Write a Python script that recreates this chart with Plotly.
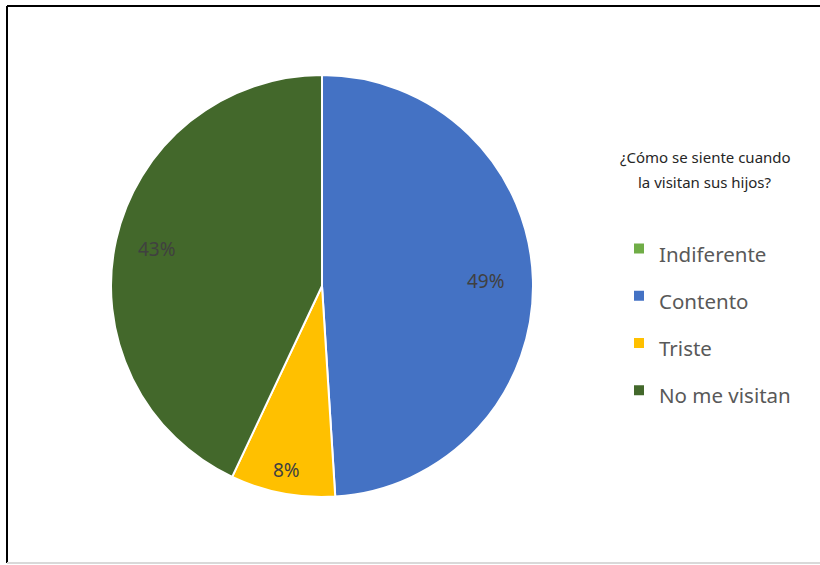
import math
import plotly.graph_objects as go

categories = ["Indiferente", "Contento", "Triste", "No me visitan"]
values = [0, 49, 8, 43]
colors = ["#70AD47", "#4472C4", "#FFC000", "#43682B"]
legend_title_lines = ["¿Cómo se siente cuando", "la visitan sus hijos?"]
label_radius = [0.8, 0.78, 0.89, 0.8]  # radial position of each data label (fraction of radius)

W, H = 820, 565
cx, cy, R = 322, 286, 211
FONT = "Noto Sans"

fig = go.Figure()
fig.add_trace(go.Pie(
    labels=["<span style='font-size:20.5px'>%s</span>" % c for c in categories],
    values=values,
    sort=False,
    direction="clockwise",
    rotation=0,
    marker=dict(colors=colors, line=dict(color="white", width=2)),
    textinfo="none",
    hoverinfo="label+percent",
    domain=dict(x=[(cx - R) / W, (cx + R) / W], y=[1 - (cy + R) / H, 1 - (cy - R) / H]),
))

# data labels placed at each slice's mid-angle
annotations = []
total = sum(values)
cum = 0
for v, rf in zip(values, label_radius):
    if v > 0:
        mid = (cum + v / 2) / total * 2 * math.pi
        px = cx + rf * R * math.sin(mid)
        py = cy - rf * R * math.cos(mid)
        annotations.append(dict(
            x=px / W, y=1 - py / H, xref="paper", yref="paper",
            text="%d%%" % round(v / total * 100), showarrow=False,
            font=dict(family=FONT, size=19, color="#404040"),
            xanchor="center", yanchor="middle",
        ))
    cum += v

for i, line in enumerate(legend_title_lines):
    annotations.append(dict(
        x=705 / W, y=1 - (157 + 25 * i) / H, xref="paper", yref="paper",
        text=line, showarrow=False,
        font=dict(family=FONT, size=15, color="#262626"),
        xanchor="center", yanchor="middle",
    ))

fig.update_layout(
    width=W, height=H,
    margin=dict(l=0, r=0, t=0, b=0),
    paper_bgcolor="white",
    plot_bgcolor="white",
    font=dict(family=FONT, color="#595959"),
    legend=dict(
        font=dict(family=FONT, size=34, color="#595959"),
        x=619 / W, y=1 - 220 / H, xanchor="left", yanchor="top",
        valign="bottom",
        bgcolor="rgba(0,0,0,0)",
    ),
    annotations=annotations,
    shapes=[
        dict(type="line", xref="paper", yref="paper", x0=7 / W, x1=1.0, y0=1 - 6 / H, y1=1 - 6 / H,
             line=dict(color="black", width=2)),
        dict(type="line", xref="paper", yref="paper", x0=7 / W, x1=7 / W, y0=1 - 6 / H, y1=1 - 563 / H,
             line=dict(color="black", width=2)),
        dict(type="line", xref="paper", yref="paper", x0=7 / W, x1=1.0, y0=1 - 563 / H, y1=1 - 563 / H,
             line=dict(color="#d9d9d9", width=2)),
    ],
)

fig.write_html("out.html", config={"displayModeBar": False},
               post_script="document.body.style.margin='0px';")
